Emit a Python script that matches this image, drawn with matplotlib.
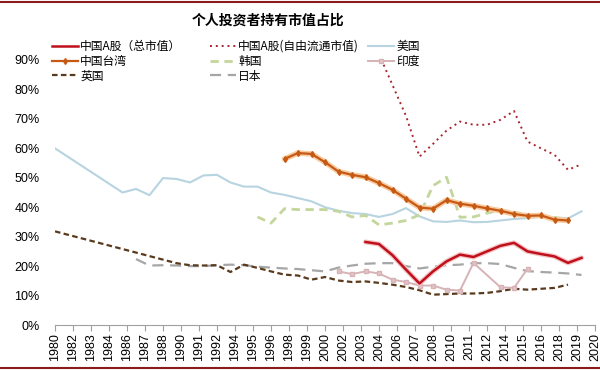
import numpy as np
import matplotlib.pyplot as plt
from matplotlib.lines import Line2D

plt.rcParams['font.family'] = ['Noto Sans CJK SC', 'DejaVu Sans']

# data (percent)
us_years = np.arange(1980, 2020)
us = [60, 57, 54, 51, 48, 45, 46.2, 44.1, 49.9, 49.6,
      48.4, 50.8, 51, 48.4, 47, 47, 45, 44.2, 43.1, 42,
      40, 38.8, 38, 37.7, 36.7, 37.7, 39.7, 36.9, 35.2, 35,
      35.5, 34.9, 35, 35.5, 36, 36.3, 36.8, 36.5, 36.2, 38.6]

tw_years = np.arange(1997, 2019)
taiwan = [56.4, 58.4, 58.1, 55.3, 52.1, 51, 50.2, 48.2, 45.9, 42.9,
          39.9, 39.5, 42.4, 41.2, 40.5, 39.6, 38.8, 37.7, 37.1, 37.2,
          35.8, 35.5]

kr_years = np.arange(1995, 2019)
korea = [36.7, 34.6, 39.5, 39.2, 39.2, 39.2, 38.6, 36.7, 37.2, 34,
         34.6, 35.5, 37.4, 47.3, 50.2, 36.6, 36.7, 38, 39, 38.3,
         37.5, 37, 36.5, 36]

cn_years = np.arange(2003, 2020)
cn_total = [28.2, 27.5, 23.7, 18.8, 14.1, 18.2, 21.6, 23.9, 23.1, 25,
            26.9, 27.9, 25, 24.1, 23.3, 21.1, 22.8]

ff_years = np.arange(2004, 2020)
cn_free = [92, 81.5, 71, 57.2, 61.5, 66, 69.1, 68, 68, 69.7,
           72.7, 62.3, 60, 57.8, 52.7, 54.6]

uk_years = np.arange(1980, 2019)
uk = [31.8, 30.6, 29.4, 28.2, 27.0, 25.8, 24.6, 23.4, 22.2, 21.0,
      20.3, 20.2, 20.3, 18.0, 20.5, 19.4, 18.2, 17.1, 16.8, 15.4,
      16.3, 15.1, 14.6, 14.8, 14.3, 13.7, 12.9, 11.8, 10.3, 10.5,
      10.7, 10.7, 10.9, 11.5, 12.3, 12.0, 12.3, 12.6, 13.7]

jp_years = np.arange(1986, 2020)
japan = [22.4, 20.2, 20.3, 20.2, 20.0, 20.0, 20.3, 20.5, 20.3, 19.8,
         19.5, 19.2, 19.0, 18.6, 18.2, 19.5, 20.2, 20.8, 21.0, 21.0,
         20.0, 19.2, 19.8, 20.3, 20.5, 21.0, 21.0, 20.7, 19.4, 18.3,
         18.0, 17.8, 17.5, 17.0]

in_years = [2001, 2002, 2003, 2004, 2005, 2006, 2007, 2008, 2009, 2010,
            2011, 2013, 2014, 2015]
india = [18.2, 17.3, 18.2, 17.5, 15.4, 14.6, 13.4, 13.4, 12.0, 11.7,
         21.1, 12.8, 12.6, 19.1]

tick_labels = ['1980', '1982', '1983', '1984', '1986', '1987', '1988', '1990',
               '1991', '1992', '1994', '1995', '1996', '1998', '1999', '2000',
               '2002', '2003', '2004', '2006', '2007', '2008', '2010', '2011',
               '2012', '2014', '2015', '2016', '2018', '2019', '2020']

fig = plt.figure(figsize=(6, 3.7), dpi=100)
ax = fig.add_axes([55 / 600, 1 - 325 / 370, 540 / 600, 265 / 370])

pct = lambda v: np.array(v) / 100

l_us, = ax.plot(us_years, pct(us), color='#b7d4e0', lw=1.5)
l_kr, = ax.plot(kr_years, pct(korea), color='#c3d69b', lw=2, ls=(0, (3, 2)))
l_jp, = ax.plot(jp_years, pct(japan), color='#a6a6a6', lw=1.6, ls=(0, (5, 3)))
l_uk, = ax.plot(uk_years, pct(uk), color='#5a3a1c', lw=1.6, ls=(0, (2.5, 1.5)))
l_in, = ax.plot(in_years, pct(india), color='#d6b3b6', lw=1.4,
                marker='s', ms=3.5, mfc='#e3c3c6', mec='#d6b3b6')
# soft glow under Taiwan and China A lines
ax.plot(tw_years, pct(taiwan), color='#f8cba0', lw=4, solid_capstyle='round')
l_tw, = ax.plot(tw_years, pct(taiwan), color='#c65a14', lw=1.6,
                marker='d', ms=3)
ax.plot(cn_years, pct(cn_total), color='#f4c4c4', lw=3.6, solid_capstyle='round')
l_cn, = ax.plot(cn_years, pct(cn_total), color='#c0101c', lw=1.8)
l_ff, = ax.plot(ff_years, pct(cn_free), color='#a8262e', lw=1.4,
                ls=(0, (1, 2)))

ax.set_xlim(1980, 2020)
ax.set_ylim(0, 0.9)
ticks = np.linspace(1980, 2020, len(tick_labels))
ax.set_xticks(ticks)
ax.set_xticklabels(tick_labels, rotation=90, fontsize=9,
                   family=['Liberation Sans'])
ax.set_yticks(np.arange(0, 0.91, 0.1))
ax.set_yticklabels(['%d%%' % (v * 10) for v in range(10)], fontsize=9,
                   family=['Liberation Sans'])
for s in ['top', 'right', 'left']:
    ax.spines[s].set_visible(False)
ax.spines['bottom'].set_color('#a0a0a0')
ax.tick_params(axis='y', length=0, pad=11)
ax.tick_params(axis='x', length=4, color='#a0a0a0', pad=2)

fig.text(268 / 600, 1 - 21 / 370, '个人投资者持有市值占比', ha='center',
         va='center', fontsize=10, fontweight='bold')

# legend, three columns placed separately
cols = [([l_cn, l_tw, l_uk], ['中国A股（总市值）', '中国台湾', '英国'], 52),
        ([l_ff, l_kr, l_jp], ['中国A股(自由流通市值)', '韩国', '日本'], 210),
        ([l_us, l_in], ['美国', '印度'], 368)]
for handles, labels, x0 in cols:
    fig.legend(handles, labels, loc='upper left',
               bbox_to_anchor=(x0 / 600, 1 - 40 / 370), frameon=False,
               fontsize=8.5, handlelength=2.2, handletextpad=0.2,
               labelspacing=0.15, borderpad=0, borderaxespad=0)

fig.add_artist(Line2D([0, 1], [1 - 2 / 370, 1 - 2 / 370], color='#8b1a1a',
                      lw=1.5, transform=fig.transFigure))
fig.add_artist(Line2D([0, 1], [2 / 370, 2 / 370], color='#8b1a1a',
                      lw=1.5, transform=fig.transFigure))

fig.savefig('out.png', dpi=100)
